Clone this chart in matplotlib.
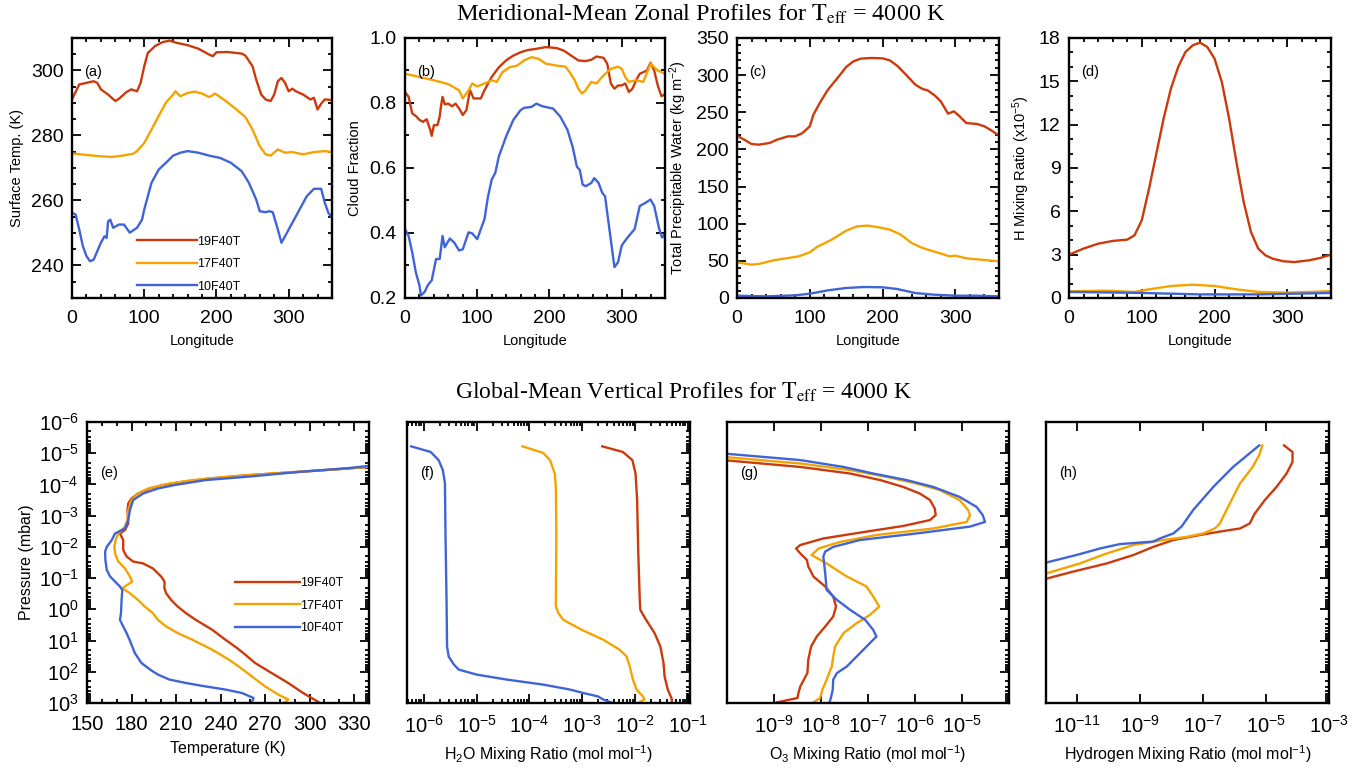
import numpy as np
import matplotlib
matplotlib.use('Agg')
import matplotlib.pyplot as plt
from matplotlib.ticker import MultipleLocator, LogLocator, NullFormatter, NullLocator, FixedLocator, LogFormatterSciNotation

plt.rcParams['font.family'] = ['Liberation Sans', 'DejaVu Sans']
plt.rcParams['mathtext.fontset'] = 'custom'
plt.rcParams['mathtext.rm'] = 'Liberation Sans'
plt.rcParams['mathtext.it'] = 'Liberation Sans:italic'
plt.rcParams['mathtext.bf'] = 'Liberation Sans:bold'
plt.rcParams['mathtext.default'] = 'regular'

# ---------------- data ----------------
run_names = ['19F40T', '17F40T', '10F40T']
run_colors = ['#CC3A0C', '#F4A300', '#3F64D8']

# (a) surface temperature vs longitude
lon_a19 = [0, 10, 20, 30, 35, 40, 50, 60, 65, 75, 82, 90, 95, 100, 105, 115, 125, 135, 145, 160, 175, 190, 195, 200, 215, 235, 240, 250, 255, 262, 268, 275, 280, 285, 290, 295, 300, 305, 310, 320, 330, 335, 340, 345, 350, 360]
ts_a19 = [291.1, 295.7, 296.2, 296.7, 296.2, 294.2, 292.6, 290.6, 291.3, 293.3, 294.2, 293.6, 296.2, 301.3, 305.4, 307.5, 308.7, 309.2, 308.5, 307.8, 306.7, 304.9, 304.4, 305.6, 305.7, 305.2, 304.6, 301.3, 297.2, 292.6, 291.1, 290.6, 292.6, 296.7, 297.7, 296.2, 293.6, 294.4, 293.6, 292.6, 291.1, 291.6, 288.0, 289.8, 291.1, 290.9]
lon_a17 = [0, 20, 40, 55, 70, 85, 90, 100, 110, 120, 130, 140, 143, 150, 160, 170, 180, 190, 198, 210, 225, 240, 250, 260, 268, 275, 285, 295, 305, 320, 335, 350, 360]
ts_a17 = [274.5, 274.0, 273.6, 273.4, 273.8, 274.4, 275.2, 277.7, 281.8, 286.0, 290.1, 292.6, 293.6, 292.1, 293.1, 293.5, 292.9, 291.8, 292.9, 291.1, 288.5, 285.7, 281.8, 276.7, 274.2, 273.8, 275.7, 274.7, 274.9, 274.2, 274.9, 275.2, 274.9]
lon_a10 = [0, 5, 10, 15, 20, 25, 30, 40, 45, 48, 50, 53, 57, 65, 72, 80, 90, 97, 100, 110, 120, 130, 140, 150, 160, 175, 190, 205, 220, 235, 245, 255, 260, 268, 273, 278, 285, 290, 295, 305, 315, 325, 335, 345, 350, 355, 360]
ts_a10 = [256.2, 255.7, 251.1, 246.0, 242.9, 241.3, 241.8, 247.0, 249.0, 248.5, 253.6, 254.1, 251.6, 252.6, 252.6, 250.1, 251.6, 254.1, 257.2, 265.4, 269.5, 271.6, 273.8, 274.7, 275.2, 274.7, 273.8, 273.1, 271.6, 269.0, 265.4, 260.3, 256.7, 256.4, 256.7, 256.4, 251.1, 247.0, 249.0, 253.1, 257.2, 261.3, 263.6, 263.6, 259.3, 256.2, 254.7]

# (b) cloud fraction vs longitude
lon_b19 = [0, 5, 10, 15, 20, 25, 30, 35, 37, 40, 45, 48, 50, 52, 55, 60, 65, 70, 75, 80, 85, 90, 95, 105, 110, 120, 130, 140, 150, 160, 170, 180, 195, 210, 220, 230, 240, 250, 258, 265, 275, 280, 285, 290, 295, 300, 305, 310, 315, 320, 325, 335, 340, 345, 350, 355, 360]
cf_b19 = [0.834, 0.819, 0.768, 0.760, 0.748, 0.742, 0.750, 0.717, 0.699, 0.732, 0.732, 0.758, 0.793, 0.819, 0.796, 0.798, 0.790, 0.798, 0.783, 0.763, 0.778, 0.839, 0.814, 0.814, 0.839, 0.880, 0.910, 0.931, 0.946, 0.956, 0.963, 0.966, 0.972, 0.969, 0.961, 0.946, 0.931, 0.929, 0.933, 0.943, 0.939, 0.921, 0.860, 0.844, 0.854, 0.854, 0.860, 0.834, 0.844, 0.870, 0.890, 0.900, 0.924, 0.900, 0.854, 0.821, 0.827]
lon_b17 = [0, 20, 40, 60, 75, 80, 88, 93, 100, 110, 120, 127, 135, 145, 155, 165, 175, 185, 195, 210, 222, 228, 235, 240, 245, 250, 258, 265, 275, 285, 295, 300, 305, 310, 320, 330, 340, 345, 350, 360]
cf_b17 = [0.890, 0.880, 0.870, 0.858, 0.839, 0.814, 0.839, 0.860, 0.851, 0.860, 0.870, 0.865, 0.895, 0.910, 0.915, 0.931, 0.941, 0.936, 0.921, 0.915, 0.912, 0.895, 0.870, 0.844, 0.829, 0.839, 0.865, 0.860, 0.885, 0.905, 0.912, 0.905, 0.880, 0.865, 0.870, 0.865, 0.921, 0.910, 0.900, 0.890]
lon_b10 = [0, 5, 10, 15, 20, 22, 27, 32, 37, 43, 48, 52, 55, 62, 68, 75, 80, 88, 93, 100, 105, 110, 115, 120, 125, 130, 140, 150, 160, 165, 175, 182, 190, 205, 215, 225, 232, 238, 242, 246, 250, 258, 262, 268, 273, 277, 283, 290, 295, 300, 305, 310, 318, 325, 333, 340, 345, 352, 356, 360]
cf_b10 = [0.412, 0.391, 0.340, 0.279, 0.239, 0.208, 0.218, 0.241, 0.254, 0.320, 0.320, 0.391, 0.356, 0.383, 0.371, 0.346, 0.350, 0.402, 0.399, 0.381, 0.412, 0.442, 0.513, 0.564, 0.585, 0.636, 0.697, 0.748, 0.778, 0.785, 0.788, 0.798, 0.790, 0.783, 0.758, 0.717, 0.666, 0.604, 0.594, 0.549, 0.544, 0.554, 0.569, 0.554, 0.524, 0.513, 0.412, 0.295, 0.310, 0.361, 0.377, 0.391, 0.412, 0.483, 0.493, 0.503, 0.483, 0.412, 0.386, 0.396]

# (c) total precipitable water vs longitude
lon_c19 = [0, 10, 20, 30, 45, 55, 70, 80, 90, 100, 105, 115, 125, 140, 150, 160, 170, 185, 200, 210, 220, 230, 245, 255, 262, 272, 280, 290, 298, 305, 315, 330, 340, 350, 360]
tpw_c19 = [218.5, 213.1, 207.3, 206.4, 208.7, 213.1, 217.6, 217.6, 222.1, 231.1, 246.8, 264.7, 280.4, 298.4, 311.0, 318.6, 322.2, 323.1, 322.6, 319.9, 312.7, 302.9, 287.2, 281.3, 279.5, 272.4, 264.7, 248.1, 251.3, 245.4, 235.6, 234.2, 231.1, 225.3, 218.5]
lon_c17 = [0, 20, 30, 50, 70, 85, 100, 110, 130, 150, 165, 180, 195, 210, 225, 240, 255, 270, 285, 292, 300, 315, 335, 360]
tpw_c17 = [48.0, 44.9, 45.8, 50.7, 53.8, 56.1, 61.5, 68.7, 78.5, 90.6, 96.5, 97.4, 95.1, 92.0, 85.3, 74.0, 67.3, 62.8, 58.3, 56.1, 57.0, 53.4, 51.6, 49.4]
lon_c10 = [0, 40, 80, 100, 125, 150, 175, 200, 220, 245, 270, 300, 330, 360]
tpw_c10 = [3.1, 2.2, 3.6, 5.8, 10.3, 13.5, 14.8, 14.4, 12.1, 6.7, 4.5, 3.1, 3.1, 2.2]

# (d) H mixing ratio (x1e-5) vs longitude
lon_d19 = [0, 20, 40, 60, 80, 90, 100, 110, 120, 130, 140, 150, 160, 170, 180, 190, 200, 210, 220, 230, 240, 250, 260, 270, 280, 295, 310, 330, 345, 360]
h_d19 = [3.0, 3.42, 3.76, 3.95, 4.04, 4.34, 5.38, 7.57, 9.99, 12.42, 14.49, 15.99, 17.03, 17.49, 17.68, 17.38, 16.57, 14.95, 12.42, 9.42, 6.65, 4.57, 3.42, 2.95, 2.72, 2.54, 2.49, 2.61, 2.77, 3.0]
lon_d17 = [0, 50, 90, 110, 140, 170, 200, 230, 260, 300, 330, 360]
h_d17 = [0.46, 0.51, 0.42, 0.60, 0.83, 0.92, 0.83, 0.60, 0.42, 0.37, 0.42, 0.48]
lon_d10 = [0, 100, 180, 260, 360]
h_d10 = [0.42, 0.35, 0.25, 0.25, 0.35]

# (e) temperature profiles; pressure given as log10(p / mbar)
t_e19 = [306, 295.6, 285.6, 274.4, 263.3, 256.7, 251.1, 243.3, 234.4, 223.3, 216.7, 211.1, 206.7, 203.3, 202.2, 202.2, 200, 194.4, 187.8, 181.1, 176.7, 174.4, 174.4, 172.2, 175.6, 177.8, 177.3, 177.8, 180, 184.4, 192.2, 201.1, 214.4, 232.2, 258.9, 292.2, 325.6, 345]
lp_e19 = [2.97, 2.68, 2.36, 2.04, 1.72, 1.455, 1.24, 0.975, 0.656, 0.337, 0.124, -0.09, -0.30, -0.515, -0.675, -0.89, -1.05, -1.31, -1.47, -1.53, -1.69, -1.90, -2.22, -2.43, -2.54, -2.75, -3.18, -3.39, -3.55, -3.71, -3.87, -3.98, -4.08, -4.19, -4.30, -4.40, -4.51, -4.58]
t_e17 = [283.3, 285.6, 278.9, 270, 261.1, 252.2, 245.6, 234.4, 221.1, 211.1, 203.3, 197.8, 194.4, 188.9, 184.4, 178.9, 173.8, 180.4, 178.9, 175.6, 171.1, 168.9, 168.4, 169.3, 171.1, 175.6, 177.3, 177.8, 180, 184.4, 191.1, 205.6, 221.1, 243.3, 274.4, 310, 345]
lp_e17 = [2.98, 2.89, 2.73, 2.47, 2.15, 1.83, 1.61, 1.295, 0.975, 0.76, 0.55, 0.337, 0.124, -0.09, -0.30, -0.515, -0.675, -0.89, -1.05, -1.31, -1.53, -1.79, -2.0, -2.22, -2.43, -2.65, -2.86, -3.18, -3.50, -3.71, -3.87, -4.03, -4.14, -4.24, -4.35, -4.46, -4.58]
t_e10 = [261.1, 262.2, 254.4, 243.3, 230, 216.7, 205.6, 197.8, 193.3, 186.7, 182.2, 179.6, 176.7, 174.4, 172.2, 172.9, 173.3, 173.8, 172.2, 168.9, 165.6, 163.3, 162.4, 162.2, 163.3, 166.7, 168.9, 175.6, 177.8, 178.9, 181.1, 187.8, 197.8, 208.9, 230, 261.1, 292.2, 325.6, 345]
lp_e10 = [2.98, 2.84, 2.68, 2.57, 2.47, 2.36, 2.25, 2.09, 1.955, 1.72, 1.40, 1.08, 0.76, 0.55, 0.337, 0.124, -0.30, -0.62, -0.73, -0.89, -1.05, -1.26, -1.58, -1.85, -2.0, -2.22, -2.43, -2.59, -2.86, -3.18, -3.50, -3.71, -3.87, -3.98, -4.14, -4.26, -4.40, -4.52, -4.62]

# (f) H2O mixing ratio profiles: log10(x), log10(p)
lx_f10 = [-6.24, -5.87, -5.72, -5.64, -5.60, -5.59, -5.57, -5.56, -5.53, -5.43, -5.34, -5.0, -4.43, -3.74, -3.23, -2.98, -2.70, -2.60, -2.45]
lp_f10 = [-5.22, -5.04, -4.78, -4.46, -4.03, -2.43, -0.30, 1.19, 1.51, 1.77, 1.93, 2.09, 2.25, 2.41, 2.57, 2.68, 2.79, 2.89, 2.98]
lx_f17 = [-4.13, -3.74, -3.61, -3.52, -3.50, -3.49, -3.50, -3.45, -3.36, -3.01, -2.60, -2.29, -2.16, -2.10, -2.04, -1.97, -1.85, -1.82, -1.92]
lp_f17 = [-5.22, -5.01, -4.78, -4.35, -3.92, -2.43, -0.09, 0.124, 0.337, 0.656, 0.975, 1.295, 1.51, 1.83, 2.25, 2.57, 2.79, 2.89, 2.98]
lx_f19 = [-2.62, -2.23, -2.05, -1.99, -1.96, -1.94, -1.91, -1.90, -1.79, -1.63, -1.52, -1.46, -1.44, -1.38, -1.31, -1.30]
lp_f19 = [-5.22, -5.04, -4.78, -4.35, -3.50, -1.90, -0.30, 0.017, 0.337, 0.76, 1.19, 1.72, 2.15, 2.57, 2.84, 2.98]

# (g) O3 mixing ratio profiles: log10(x), log10(p)
lx_g10 = [-10.3, -8.44, -7.52, -6.89, -6.18, -5.61, -5.05, -4.69, -4.56, -4.51, -4.83, -5.97, -7.17, -7.74, -7.91, -7.95, -7.91, -7.88, -7.66, -7.38, -7.06, -6.89, -6.82, -7.03, -7.24, -7.45, -7.66, -7.74, -7.75, -7.79, -7.82]
lp_g10 = [-5.02, -4.78, -4.56, -4.35, -4.14, -3.92, -3.60, -3.28, -3.02, -2.80, -2.65, -2.43, -2.22, -2.0, -1.85, -1.69, -1.15, -0.62, -0.30, 0.017, 0.337, 0.656, 0.87, 1.19, 1.51, 1.83, 2.04, 2.25, 2.57, 2.84, 2.98]
lx_g17 = [-10.3, -8.44, -7.38, -6.60, -5.97, -5.47, -5.05, -4.87, -4.83, -4.90, -5.61, -6.82, -7.59, -8.05, -8.20, -7.88, -7.45, -7.03, -6.89, -6.76, -6.96, -7.24, -7.52, -7.70, -7.74, -7.77, -7.88, -7.97, -8.02, -8.16]
lp_g17 = [-4.91, -4.67, -4.46, -4.24, -4.03, -3.82, -3.50, -3.18, -3.02, -2.80, -2.59, -2.38, -2.16, -1.95, -1.74, -1.47, -1.05, -0.73, -0.41, -0.09, 0.18, 0.44, 0.76, 1.19, 1.51, 1.83, 2.25, 2.57, 2.84, 2.98]
lx_g19 = [-10.3, -8.44, -7.38, -6.74, -6.25, -5.90, -5.68, -5.58, -5.56, -5.68, -6.25, -7.03, -7.95, -8.44, -8.53, -8.44, -8.30, -8.27, -8.16, -7.91, -7.74, -7.68, -7.74, -7.91, -8.09, -8.21, -8.27, -8.29, -8.44, -8.48, -8.50, -8.94]
lp_g19 = [-4.81, -4.56, -4.35, -4.14, -3.92, -3.71, -3.50, -3.23, -3.02, -2.86, -2.67, -2.49, -2.27, -2.06, -1.95, -1.79, -1.58, -1.37, -1.05, -0.73, -0.41, -0.09, 0.23, 0.55, 0.87, 1.19, 1.61, 2.04, 2.47, 2.68, 2.84, 2.98]

# (h) hydrogen mixing ratio profiles: log10(x), log10(p)
lx_h10 = [-5.22, -6.05, -6.68, -7.32, -7.69, -7.95, -8.38, -8.59, -9.65, -10.28, -10.92, -12.3]
lp_h10 = [-5.25, -4.56, -3.92, -3.18, -2.65, -2.43, -2.27, -2.17, -2.09, -1.95, -1.77, -1.42]
lx_h17 = [-5.12, -5.22, -5.43, -5.83, -6.05, -6.26, -6.47, -6.63, -7.0, -7.53, -8.27, -9.22, -10.07, -10.92, -12.3]
lp_h17 = [-5.25, -4.94, -4.56, -4.03, -3.60, -3.18, -2.75, -2.59, -2.43, -2.32, -2.22, -2.06, -1.79, -1.47, -1.06]
lx_h19 = [-4.43, -4.16, -4.16, -4.35, -4.67, -5.04, -5.36, -5.52, -5.83, -6.47, -7.11, -7.95, -8.59, -9.22, -10.07, -11.13, -12.3]
lp_h19 = [-5.25, -5.04, -4.72, -4.35, -3.92, -3.50, -3.07, -2.75, -2.59, -2.49, -2.38, -2.22, -2.0, -1.74, -1.47, -1.21, -0.90]

# ---------------- figure ----------------
fig = plt.figure(figsize=(13.68, 7.68), dpi=100)
W, H = 1368.0, 768.0

def add_ax(x0, x1, y0, y1):
    return fig.add_axes([x0 / W, 1 - y1 / H, (x1 - x0) / W, (y1 - y0) / H])

LW = 1.7
TICK_TOP = 14
TICK_BOT = 14.5
LAB_TOP = 10.5
LAB_BOT = 11.5

def style(ax, labelsize):
    for s in ax.spines.values():
        s.set_linewidth(1.7)
    ax.tick_params(which='both', direction='in', top=True, right=True, width=1.3)
    ax.tick_params(which='major', length=6.5, labelsize=labelsize, pad=6)
    ax.tick_params(axis='x', which='major', pad=8.5)
    ax.tick_params(which='minor', length=3.2)

# top row
top_boxes = [(72, 332), (405, 665), (737, 999), (1069, 1331)]
axa = add_ax(*top_boxes[0], 38, 298)
axb = add_ax(*top_boxes[1], 38, 298)
axc = add_ax(*top_boxes[2], 38, 298)
axd = add_ax(*top_boxes[3], 38, 298)

la = []
for lon, v, c in zip([lon_a19, lon_a17, lon_a10], [ts_a19, ts_a17, ts_a10], run_colors):
    la.append(axa.plot(lon, v, color=c, lw=LW)[0])
for lon, v, c in zip([lon_b19, lon_b17, lon_b10], [cf_b19, cf_b17, cf_b10], run_colors):
    axb.plot(lon, v, color=c, lw=LW)
for lon, v, c in zip([lon_c19, lon_c17, lon_c10], [tpw_c19, tpw_c17, tpw_c10], run_colors):
    axc.plot(lon, v, color=c, lw=LW)
for lon, v, c in zip([lon_d19, lon_d17, lon_d10], [h_d19, h_d17, h_d10], run_colors):
    axd.plot(lon, v, color=c, lw=LW)

for ax in (axa, axb, axc, axd):
    style(ax, TICK_TOP)
    ax.set_xlim(0, 360)
    ax.xaxis.set_major_locator(MultipleLocator(100))
    ax.xaxis.set_minor_locator(MultipleLocator(20))
    ax.set_xlabel('Longitude', fontsize=LAB_TOP, labelpad=5)

axa.set_ylim(230, 310)
axa.yaxis.set_major_locator(FixedLocator([240, 260, 280, 300]))
axa.yaxis.set_minor_locator(MultipleLocator(5))
axa.set_ylabel('Surface Temp. (K)', fontsize=LAB_TOP, labelpad=5)

axb.set_ylim(0.2, 1.0)
axb.yaxis.set_major_locator(MultipleLocator(0.2))
axb.yaxis.set_minor_locator(MultipleLocator(0.1))
axb.yaxis.set_major_formatter(matplotlib.ticker.FormatStrFormatter('%.1f'))
axb.set_ylabel('Cloud Fraction', fontsize=LAB_TOP, labelpad=5)

axc.set_ylim(0, 350)
axc.yaxis.set_major_locator(MultipleLocator(50))
axc.yaxis.set_minor_locator(MultipleLocator(10))
axc.set_ylabel('Total Precipitable Water (kg m$^{-2}$)', fontsize=LAB_TOP, labelpad=5)

axd.set_ylim(0, 18)
axd.yaxis.set_major_locator(MultipleLocator(3))
axd.yaxis.set_minor_locator(MultipleLocator(1))
axd.set_ylabel('H Mixing Ratio (x10$^{-5}$)', fontsize=LAB_TOP, labelpad=5)

for ax, lab in zip((axa, axb, axc, axd), ['(a)', '(b)', '(c)', '(d)']):
    ax.text(0.045, 0.87, lab, transform=ax.transAxes, fontsize=10.5, va='center', ha='left')

axa.legend(la, run_names, loc='lower left', bbox_to_anchor=(0.25, 0.02), frameon=False,
           fontsize=9, handlelength=4.8, handletextpad=0.0, labelspacing=0.85,
           borderpad=0, borderaxespad=0)

# bottom row
bot_boxes = [(87, 369), (407, 690), (727, 1009), (1046, 1329)]
axe = add_ax(*bot_boxes[0], 422, 703)
axf = add_ax(*bot_boxes[1], 422, 703)
axg = add_ax(*bot_boxes[2], 422, 703)
axh = add_ax(*bot_boxes[3], 422, 703)

le = []
for t, lp, c in zip([t_e19, t_e17, t_e10], [lp_e19, lp_e17, lp_e10], run_colors):
    le.append(axe.plot(t, 10.0 ** np.array(lp), color=c, lw=LW)[0])
for lx, lp, c in zip([lx_f19, lx_f17, lx_f10], [lp_f19, lp_f17, lp_f10], run_colors):
    axf.plot(10.0 ** np.array(lx), 10.0 ** np.array(lp), color=c, lw=LW)
for lx, lp, c in zip([lx_g19, lx_g17, lx_g10], [lp_g19, lp_g17, lp_g10], run_colors):
    axg.plot(10.0 ** np.array(lx), 10.0 ** np.array(lp), color=c, lw=LW)
for lx, lp, c in zip([lx_h19, lx_h17, lx_h10], [lp_h19, lp_h17, lp_h10], run_colors):
    axh.plot(10.0 ** np.array(lx), 10.0 ** np.array(lp), color=c, lw=LW)

for ax in (axe, axf, axg, axh):
    style(ax, TICK_BOT)
    ax.set_yscale('log')
    ax.set_ylim(1e3, 1e-6)
    ax.yaxis.set_major_locator(LogLocator(base=10, numticks=20))
    ax.yaxis.set_minor_locator(LogLocator(base=10, subs=np.arange(2, 10), numticks=20))
    ax.yaxis.set_minor_formatter(NullFormatter())

axe.set_xlim(150, 340)
axe.xaxis.set_major_locator(MultipleLocator(30))
axe.xaxis.set_minor_locator(MultipleLocator(10))
axe.set_xlabel('Temperature (K)', fontsize=LAB_BOT, labelpad=5)
axe.set_ylabel('Pressure (mbar)', fontsize=LAB_BOT, labelpad=3)

for ax in (axf, axg, axh):
    ax.set_xscale('log')
    ax.tick_params(axis='y', which='both', left=False, labelleft=False)

axf.set_xlim(4.8e-7, 1.1e-1)
axf.xaxis.set_major_locator(LogLocator(base=10, numticks=20))
axf.xaxis.set_minor_locator(LogLocator(base=10, subs=np.arange(2, 10), numticks=20))
axf.xaxis.set_minor_formatter(NullFormatter())
axf.set_xlabel('H$_2$O Mixing Ratio (mol mol$^{-1}$)', fontsize=LAB_BOT, labelpad=5)

axg.set_xlim(1e-10, 1e-4)
axg.xaxis.set_major_locator(FixedLocator([1e-9, 1e-8, 1e-7, 1e-6, 1e-5]))
axg.xaxis.set_major_formatter(LogFormatterSciNotation())
axg.xaxis.set_minor_locator(NullLocator())
axg.set_xlabel('O$_3$ Mixing Ratio (mol mol$^{-1}$)', fontsize=LAB_BOT, labelpad=5)

axh.set_xlim(1e-12, 1e-3)
axh.xaxis.set_major_locator(FixedLocator([1e-11, 1e-9, 1e-7, 1e-5, 1e-3]))
axh.xaxis.set_major_formatter(LogFormatterSciNotation())
axh.xaxis.set_minor_locator(NullLocator())
axh.set_xlabel('Hydrogen Mixing Ratio (mol mol$^{-1}$)', fontsize=LAB_BOT, labelpad=5)

for ax, lab in zip((axe, axf, axg, axh), ['(e)', '(f)', '(g)', '(h)']):
    ax.text(0.045, 0.82, lab, transform=ax.transAxes, fontsize=10.5, va='center', ha='left')

axe.legend(le, run_names, loc='lower left', bbox_to_anchor=(0.525, 0.245), frameon=False,
           fontsize=9, handlelength=5.2, handletextpad=0.0, labelspacing=0.85,
           borderpad=0, borderaxespad=0)

# titles
fig.text(0.512, 1 - 14 / H, r'Meridional-Mean Zonal Profiles for $\mathrm{T}_{\mathrm{eff}}$ = 4000 K',
         ha='center', va='center', fontsize=17.5, family='Liberation Serif', math_fontfamily='stix')
fig.text(0.5, 1 - 392 / H, r'Global-Mean Vertical Profiles for $\mathrm{T}_{\mathrm{eff}}$ = 4000 K',
         ha='center', va='center', fontsize=17, family='Liberation Serif', math_fontfamily='stix')

fig.savefig('out.png', dpi=100)
